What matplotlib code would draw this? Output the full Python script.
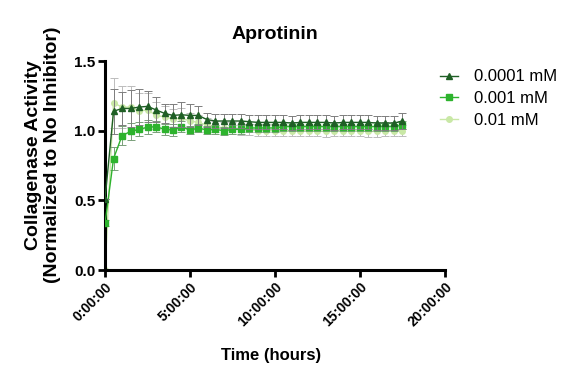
import numpy as np
import matplotlib
matplotlib.use("Agg")
import matplotlib.pyplot as plt

plt.rcParams['font.family'] = ['Liberation Sans', 'DejaVu Sans']

# time points (hours), every 30 min
hours = np.arange(0, 18, 0.5)

# 0.0001 mM
tri_mean = [0.51, 1.14, 1.16, 1.16, 1.17, 1.175, 1.15, 1.125, 1.11, 1.115, 1.11, 1.11,
            1.08, 1.07, 1.07, 1.07, 1.07, 1.065, 1.06, 1.06, 1.06, 1.06, 1.055, 1.06,
            1.06, 1.06, 1.06, 1.055, 1.06, 1.06, 1.06, 1.06, 1.055, 1.055, 1.055, 1.07]
tri_err = [0.0, 0.16, 0.12, 0.13, 0.13, 0.11, 0.09, 0.07, 0.08, 0.09, 0.08, 0.07,
           0.05, 0.05, 0.05, 0.05, 0.05, 0.05, 0.05, 0.05, 0.05, 0.05, 0.05, 0.05,
           0.05, 0.05, 0.05, 0.05, 0.05, 0.05, 0.05, 0.05, 0.05, 0.05, 0.05, 0.06]

# 0.001 mM
sq_mean = [0.336, 0.80, 0.965, 0.995, 1.01, 1.025, 1.03, 1.01, 1.005, 1.03, 1.005, 1.02,
           1.005, 1.01, 1.0, 1.01, 1.01, 1.02, 1.02, 1.02, 1.02, 1.03, 1.03, 1.03,
           1.03, 1.03, 1.03, 1.03, 1.03, 1.03, 1.03, 1.03, 1.03, 1.03, 1.03, 1.04]
sq_err = [0.02, 0.08, 0.07, 0.06, 0.05, 0.05, 0.04, 0.04, 0.04, 0.04, 0.03, 0.03,
          0.03, 0.03, 0.03, 0.03, 0.03, 0.03, 0.03, 0.03, 0.03, 0.03, 0.03, 0.03,
          0.03, 0.03, 0.03, 0.03, 0.03, 0.03, 0.03, 0.03, 0.03, 0.03, 0.03, 0.03]

# 0.01 mM
pale_mean = [0.0, 1.20, 1.17, 1.17, 1.14, 1.15, 1.11, 1.10, 1.085, 1.09, 1.07, 1.06,
             1.04, 1.03, 1.02, 1.02, 1.01, 1.01, 1.0, 1.0, 1.0, 1.0, 1.0, 1.0,
             1.0, 1.0, 0.995, 1.0, 1.0, 1.0, 1.0, 0.995, 0.995, 1.0, 1.0, 1.0]
pale_err = [0.0, 0.18, 0.15, 0.15, 0.13, 0.12, 0.10, 0.08, 0.07, 0.07, 0.06, 0.05,
            0.05, 0.04, 0.04, 0.04, 0.04, 0.04, 0.04, 0.04, 0.04, 0.04, 0.04, 0.04,
            0.04, 0.04, 0.04, 0.04, 0.04, 0.04, 0.04, 0.04, 0.04, 0.04, 0.04, 0.04]

labels = ['0.0001 mM', '0.001 mM', '0.01 mM']
xtick_vals = [0, 5, 10, 15, 20]
xtick_labels = ['0:00:00', '5:00:00', '10:00:00', '15:00:00', '20:00:00']

fig = plt.figure(figsize=(5.74, 3.71), dpi=100)
ax = fig.add_axes([0.183, 0.272, 0.592, 0.5633])

# draw pale first so darker ones sit on top
ax.errorbar(hours, pale_mean, yerr=pale_err, color='#c9e8a6', marker='o', ms=4,
            lw=1, elinewidth=0.7, capsize=3, capthick=0.7, ecolor='#bcbcbc',
            label=labels[2], zorder=2)
ax.errorbar(hours, sq_mean, yerr=sq_err, color='#2db32d', marker='s', ms=4.5,
            lw=1, elinewidth=0.7, capsize=3, capthick=0.7, ecolor='#7aa07a',
            label=labels[1], zorder=3)
ax.errorbar(hours, tri_mean, yerr=tri_err, color='#1f5f25', marker='^', ms=4,
            lw=1, elinewidth=0.7, capsize=3, capthick=0.7, ecolor='#7d7d7d',
            label=labels[0], zorder=4)

ax.set_xlim(0, 20)
ax.set_ylim(0, 1.5)
ax.set_yticks([0.0, 0.5, 1.0, 1.5])
ax.set_yticklabels(['0.0', '0.5', '1.0', '1.5'], fontsize=11, fontweight='bold')
ax.set_xticks(xtick_vals)
ax.set_xticklabels(xtick_labels, rotation=45, ha='right', rotation_mode='anchor',
                   fontsize=10, fontweight='bold')

for side in ['top', 'right']:
    ax.spines[side].set_visible(False)
for side in ['left', 'bottom']:
    ax.spines[side].set_linewidth(2.2)
ax.tick_params(width=2, length=5, direction='out', pad=2)

ax.set_title('Aprotinin', fontsize=14, fontweight='bold', y=1.105, pad=0)
ax.set_xlabel('Time (hours)', fontsize=12, fontweight='bold')
ax.xaxis.set_label_coords(0.49, -0.375)
ax.set_ylabel('Collagenase Activity\n(Normalized to No Inhibitor)', fontsize=14,
              fontweight='bold', linespacing=1.15)
ax.yaxis.set_label_coords(-0.13, 0.55)

handles, lab = ax.get_legend_handles_labels()
order = [2, 1, 0]
leg = ax.legend([handles[i][0] for i in order], [lab[i] for i in order],
                loc='upper left', bbox_to_anchor=(0.985, 0.96), frameon=False,
                fontsize=12, handlelength=1.1, handletextpad=0.95,
                labelspacing=0.4, borderpad=0, borderaxespad=0)

fig.savefig('out.png', dpi=100)
